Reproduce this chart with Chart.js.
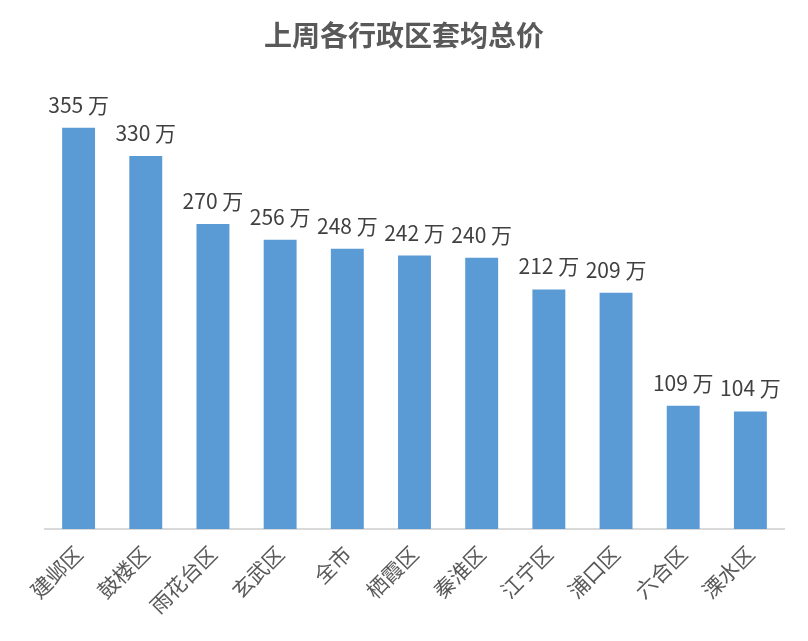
<!DOCTYPE html>
<html>
<head>
<meta charset="utf-8">
<script src="https://cdn.jsdelivr.net/npm/chart.js@4/dist/chart.umd.min.js"></script>
<style>
  html, body { margin: 0; padding: 0; background: #fff; }
  #wrap { width: 808px; height: 641px; }
</style>
</head>
<body>
<div id="wrap"><canvas id="chart"></canvas></div>
<script>
const title = "上周各行政区套均总价";
const districts = ["建邺区", "鼓楼区", "雨花台区", "玄武区", "全市", "栖霞区", "秦淮区", "江宁区", "浦口区", "六合区", "溧水区"];
const avgPrice = [355, 330, 270, 256, 248, 242, 240, 212, 209, 109, 104];
const unit = " 万";

const font = "'Noto Sans CJK SC', 'Noto Sans', sans-serif";

// value labels above each bar, title centred on the whole picture
const valueLabels = {
    id: "valueLabels",
    afterDatasetsDraw(chart) {
        const ctx = chart.ctx;
        const meta = chart.getDatasetMeta(0);
        ctx.save();
        ctx.font = "21px " + font;
        ctx.fillStyle = "#404040";
        ctx.textAlign = "center";
        ctx.textBaseline = "alphabetic";
        meta.data.forEach((bar, i) => {
            ctx.fillText(avgPrice[i] + unit, bar.x, bar.y - 15);
        });

        ctx.font = "bold 28px " + font;
        ctx.fillStyle = "#595959";
        ctx.textBaseline = "middle";
        ctx.fillText(title, chart.width / 2, 35);
        ctx.restore();
    }
};

const context = document.getElementById("chart").getContext("2d");

new Chart(context, {
    type: "bar",
    data: {
        labels: districts,
        datasets: [
            {
                label: title,
                data: avgPrice,
                backgroundColor: "#5b9bd5",
                barPercentage: 0.49,
                categoryPercentage: 1,
            },
        ],
    },
    options: {
        responsive: true,
        maintainAspectRatio: false,
        animation: false,
        layout: {
            padding: { left: 45, right: 24, top: 77, bottom: 0 },
        },
        plugins: {
            legend: { display: false },
            tooltip: { enabled: false },
            title: { display: false },
        },
        scales: {
            x: {
                grid: { display: false },
                border: { color: "#d9d9d9", width: 2 },
                ticks: {
                    color: "#595959",
                    font: { family: font, size: 21 },
                    minRotation: 45,
                    maxRotation: 45,
                    padding: 4,
                    autoSkip: false,
                },
                afterFit(scale) {
                    scale.height = 112;
                    scale.paddingLeft = 0;
                    scale.paddingRight = 0;
                },
            },
            y: {
                display: false,
                min: 0,
                max: 400,
            },
        },
    },
    plugins: [valueLabels],
});
</script>
</body>
</html>
